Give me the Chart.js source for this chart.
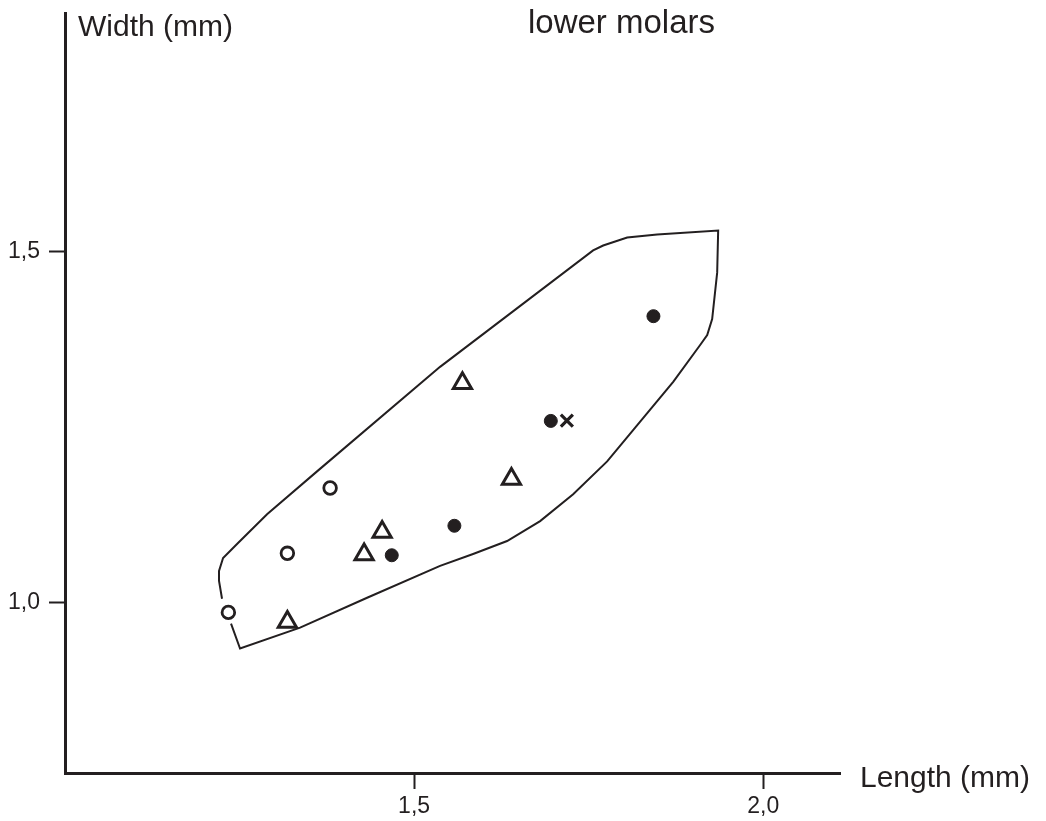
<!DOCTYPE html>
<html>
<head>
<meta charset="utf-8">
<script src="https://cdn.jsdelivr.net/npm/chart.js@4.4.1/dist/chart.umd.min.js"></script>
<style>
  html, body { margin: 0; padding: 0; background: #fff; }
  #wrap { width: 1046px; height: 821px; }
</style>
</head>
<body>
<div id="wrap"><canvas id="chart-molars" width="1046" height="821"></canvas></div>
<script>
// ---- data (length / width in mm) ----
const openCircleL = [1.234, 1.3185, 1.3797];
const openCircleW = [0.9858, 1.070, 1.163];

const triangleL = [1.3185, 1.4284, 1.4542, 1.5692, 1.6394];
const triangleW = [0.972, 1.0684, 1.1005, 1.3122, 1.1757];

const filledL = [1.468, 1.5577, 1.6958, 1.8428];
const filledW = [1.0672, 1.1092, 1.2586, 1.4078];

const crossL = [1.7188];
const crossW = [1.259];

// hand-drawn envelope round all specimens (open at the left end)
const outlineL = [1.2378, 1.2507, 1.3367, 1.4327, 1.5372, 1.5845, 1.6332, 1.6805, 1.7278, 1.7765,
  1.8238, 1.8711, 1.9097, 1.9198, 1.9269, 1.9341, 1.9355, 1.8481, 1.8052, 1.7708, 1.7564,
  1.5372, 1.3610, 1.2894, 1.2464, 1.2264, 1.2206, 1.2206, 1.2249];
const outlineW = [0.9698, 0.9344, 0.9641, 1.0067, 1.052, 1.069, 1.0875, 1.1158, 1.1541, 1.2009,
  1.2576, 1.3143, 1.3667, 1.3809, 1.4036, 1.4702, 1.5298, 1.5241, 1.5198, 1.5085, 1.5014,
  1.3356, 1.1867, 1.1257, 1.0832, 1.0634, 1.0449, 1.0308, 1.0052];

const xTicks = [1.5, 2.0];
const yTicks = [1.0, 1.5];

const INK = '#231f20';
const FONT = "'Liberation Sans', Arial, sans-serif";

const pts = (xs, ys) => xs.map((x, i) => ({ x, y: ys[i] }));
const fmtComma = v => Number(v).toFixed(1).replace('.', ',');

// free-standing labels: axis names and panel title
const labelsPlugin = {
  id: 'labels',
  afterDraw(chart) {
    const { ctx, chartArea } = chart;
    ctx.save();
    ctx.fillStyle = INK;
    ctx.textAlign = 'left';
    ctx.textBaseline = 'alphabetic';
    ctx.font = `30px ${FONT}`;
    ctx.fillText('Width (mm)', chartArea.left + 13, 36);
    ctx.fillText('Length (mm)', chartArea.right + 20, chartArea.bottom + 14);
    ctx.font = `33px ${FONT}`;
    ctx.fillText('lower molars', 528, 33);
    ctx.restore();
  },
};

new Chart(document.getElementById('chart-molars'), {
  type: 'scatter',
  data: {
    datasets: [
      {
        label: 'x',
        data: pts(crossL, crossW),
        pointStyle: 'crossRot',
        pointRadius: 8.5,
        borderColor: INK,
        borderWidth: 3.2,
      },
      {
        label: 'filled',
        data: pts(filledL, filledW),
        pointStyle: 'circle',
        pointRadius: 6.5,
        backgroundColor: INK,
        borderColor: INK,
        borderWidth: 1,
      },
      {
        label: 'triangles',
        data: pts(triangleL, triangleW),
        pointStyle: 'triangle',
        pointRadius: 10.5,
        backgroundColor: '#fff',
        borderColor: INK,
        borderWidth: 3,
      },
      {
        label: 'open',
        data: pts(openCircleL, openCircleW),
        pointStyle: 'circle',
        pointRadius: 6.3,
        backgroundColor: '#fff',
        borderColor: INK,
        borderWidth: 2.8,
      },
      {
        label: 'outline',
        data: pts(outlineL, outlineW),
        showLine: true,
        tension: 0,
        pointRadius: 0,
        borderColor: INK,
        borderWidth: 2,
      },
    ],
  },
  options: {
    responsive: false,
    animation: false,
    layout: { padding: { left: 0, top: 10, right: 206, bottom: 0 } },
    plugins: { legend: { display: false }, tooltip: { enabled: false } },
    scales: {
      x: {
        type: 'linear',
        min: 1.0,
        max: 2.11,
        afterBuildTicks: s => { s.ticks = xTicks.map(value => ({ value })); },
        afterFit: s => { s.height = 48; s.paddingLeft = 0; s.paddingRight = 0; },
        border: { display: true, color: INK, width: 3 },
        grid: { drawOnChartArea: false, drawTicks: true, tickLength: 16, tickColor: INK, tickWidth: 2 },
        ticks: { color: INK, font: { family: FONT, size: 23 }, padding: 4, maxRotation: 0, callback: fmtComma },
      },
      y: {
        type: 'linear',
        min: 0.757,
        max: 1.839,
        afterBuildTicks: s => { s.ticks = yTicks.map(value => ({ value })); },
        afterFit: s => { s.width = 65; s.paddingTop = 0; s.paddingBottom = 0; },
        border: { display: true, color: INK, width: 3 },
        grid: { drawOnChartArea: false, drawTicks: true, tickLength: 16, tickColor: INK, tickWidth: 2 },
        ticks: { color: INK, font: { family: FONT, size: 23 }, padding: 9, callback: fmtComma },
      },
    },
  },
  plugins: [labelsPlugin],
});
</script>
</body>
</html>
